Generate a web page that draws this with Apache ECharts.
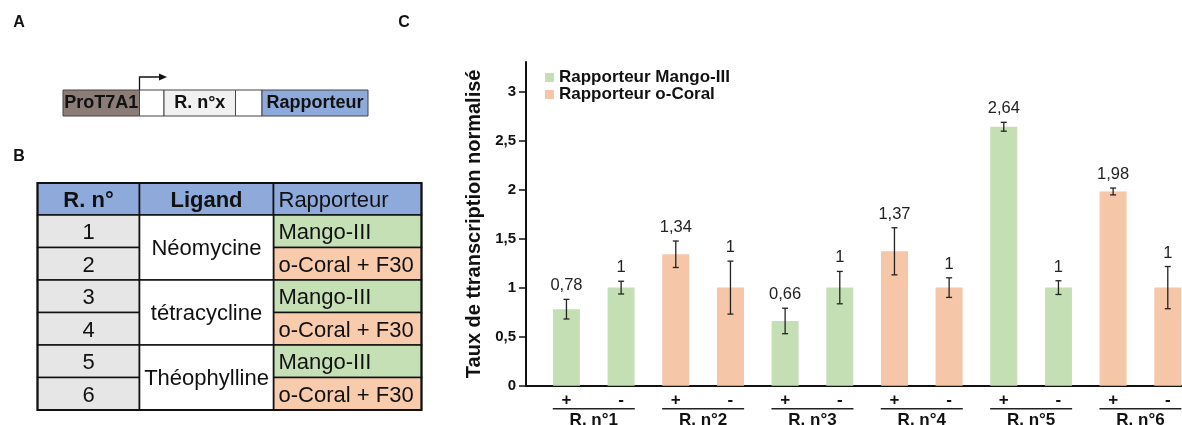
<!DOCTYPE html>
<html>
<head>
<meta charset="utf-8">
<script src="https://cdn.jsdelivr.net/npm/echarts@6/dist/echarts.min.js"></script>
<style>
html,body{margin:0;padding:0;background:#fff;}
#chart{width:1182px;height:425px;}
</style>
</head>
<body>
<div id="chart"></div>
<script>
// ---- Data (panel C) ----
const conditions = ['+', '-', '+', '-', '+', '-', '+', '-', '+', '-', '+', '-'];
const constructs = ['R. n°1', 'R. n°2', 'R. n°3', 'R. n°4', 'R. n°5', 'R. n°6'];
const mangoValues = [0.78, 1, null, null, 0.66, 1, null, null, 2.64, 1, null, null];
const coralValues = [null, null, 1.34, 1, null, null, 1.37, 1, null, null, 1.98, 1];
const errorValues = [0.10, 0.065, 0.135, 0.27, 0.13, 0.165, 0.24, 0.10, 0.045, 0.07, 0.035, 0.215];
const yTicks = [0, 0.5, 1, 1.5, 2, 2.5, 3];
const seriesNames = ['Rapporteur Mango-III', 'Rapporteur o-Coral'];

// ---- Text content (panels A and B) ----
const constructParts = ['ProT7A1', '', 'R. n°x', '', 'Rapporteur'];
const tableHeader = ['R. n°', 'Ligand', 'Rapporteur'];
const rowNumbers = ['1', '2', '3', '4', '5', '6'];
const ligands = ['Néomycine', 'tétracycline', 'Théophylline'];
const reporters = ['Mango-III', 'o-Coral + F30', 'Mango-III', 'o-Coral + F30', 'Mango-III', 'o-Coral + F30'];

const FONT = '"Liberation Sans", Arial, sans-serif';
const GREEN = '#c5dfb5';
const ORANGE = '#f5c6a7';
const fmt = v => String(v).replace('.', ',');

const chart = echarts.init(document.getElementById('chart'));

// ---- graphic: panels A & B ----
const g = [];
function txt(x, y, text, size, bold, align) {
  g.push({type: 'text', x: x, y: y, silent: true,
    style: {text: text, fontSize: size, fontWeight: bold ? 'bold' : 'normal', fontFamily: FONT,
      fill: '#111', align: align || 'center', verticalAlign: 'middle'}});
}
txt(19, 23, 'A', 16, true);
txt(19, 157, 'B', 16, true);
txt(404, 23, 'C', 16, true);

// Panel A
const aEdges = [63, 139.5, 164, 235.5, 262, 368];
const aFills = ['#8c7c77', '#ffffff', '#f1f1f1', '#ffffff', '#8eaadb'];
for (let i = 0; i < 5; i++) {
  g.push({type: 'rect', silent: true, shape: {x: aEdges[i], y: 90, width: aEdges[i + 1] - aEdges[i], height: 26},
    style: {fill: aFills[i], stroke: '#444', lineWidth: 1}});
  if (constructParts[i]) txt((aEdges[i] + aEdges[i + 1]) / 2, 103.5, constructParts[i], 18, true);
}
g.push({type: 'polyline', silent: true, shape: {points: [[139.5, 90], [139.5, 77], [161, 77]]},
  style: {stroke: '#111', lineWidth: 1.3, fill: null}});
g.push({type: 'polygon', silent: true, shape: {points: [[159, 73.5], [167, 77], [159, 80.5]]},
  style: {fill: '#111'}});

// Panel B
const bx = [37.5, 139.5, 273.5, 421.5];
const by = [183, 215, 247.5, 280, 312.5, 345, 377.5, 410];
const line = '#111';
for (let c = 0; c < 3; c++) {
  g.push({type: 'rect', silent: true, shape: {x: bx[c], y: by[0], width: bx[c + 1] - bx[c], height: by[1] - by[0]},
    style: {fill: '#8eaadb', stroke: line, lineWidth: 1.6}});
}
for (let r = 0; r < 6; r++) {
  g.push({type: 'rect', silent: true, shape: {x: bx[0], y: by[r + 1], width: bx[1] - bx[0], height: by[r + 2] - by[r + 1]},
    style: {fill: '#e7e6e6', stroke: line, lineWidth: 1.6}});
  g.push({type: 'rect', silent: true, shape: {x: bx[2], y: by[r + 1], width: bx[3] - bx[2], height: by[r + 2] - by[r + 1]},
    style: {fill: r % 2 === 0 ? '#c5e0b4' : '#f8cbad', stroke: line, lineWidth: 1.6}});
}
for (let k = 0; k < 3; k++) {
  g.push({type: 'rect', silent: true, shape: {x: bx[1], y: by[2 * k + 1], width: bx[2] - bx[1], height: by[2 * k + 3] - by[2 * k + 1]},
    style: {fill: '#ffffff', stroke: line, lineWidth: 1.6}});
}
g.push({type: 'rect', silent: true, shape: {x: bx[0], y: by[0], width: bx[3] - bx[0], height: by[7] - by[0]},
  style: {fill: null, stroke: line, lineWidth: 2}});
txt((bx[0] + bx[1]) / 2, 201, tableHeader[0], 22, true);
txt((bx[1] + bx[2]) / 2, 201, tableHeader[1], 22, true);
txt(bx[2] + 5, 201, tableHeader[2], 22, false, 'left');
for (let r = 0; r < 6; r++) {
  const cy = (by[r + 1] + by[r + 2]) / 2 + 2;
  txt((bx[0] + bx[1]) / 2, cy, rowNumbers[r], 22, false);
  txt(bx[2] + 5, cy, reporters[r], 22, false, 'left');
}
for (let k = 0; k < 3; k++) {
  txt((bx[1] + bx[2]) / 2, (by[2 * k + 1] + by[2 * k + 3]) / 2 + 1, ligands[k], 22, false);
}

// ---- Panel C data for series ----
const toPairs = arr => arr.map((v, i) => v == null ? null : [i, v]).filter(d => d);
const allValues = mangoValues.map((v, i) => v != null ? v : coralValues[i]);
const errData = allValues.map((v, i) => [i, v, errorValues[i]]);
const xMin = -0.74, xMax = 11.26;

const option = {
  animation: false,
  backgroundColor: '#ffffff',
  graphic: g,
  legend: {
    data: seriesNames,
    orient: 'vertical',
    left: 540, top: 64,
    itemWidth: 9, itemHeight: 9, itemGap: 0,
    icon: 'rect',
    textStyle: {fontFamily: FONT, fontWeight: 'bold', fontSize: 17, color: '#111', lineHeight: 17}
  },
  grid: {left: 526, right: 0, top: 62, bottom: 39.3, containLabel: false, outerBoundsMode: 'none'},
  xAxis: [{
    type: 'value', min: xMin, max: xMax,
    axisLine: {show: true, onZero: false, lineStyle: {color: '#111', width: 2}},
    axisTick: {show: false}, splitLine: {show: false},
    axisLabel: {customValues: conditions.map((c, i) => i), formatter: v => conditions[Math.round(v)],
      margin: 6, fontFamily: FONT, fontWeight: 'bold', fontSize: 17, color: '#111'}
  }, {
    type: 'value', min: xMin, max: xMax, position: 'bottom',
    axisLine: {show: false, onZero: false}, axisTick: {show: false}, splitLine: {show: false},
    axisLabel: {customValues: constructs.map((c, i) => 2 * i + 0.5),
      formatter: v => '{u| }\n{t|' + constructs[Math.round((v - 0.5) / 2)] + '}',
      margin: 22,
      rich: {
        u: {width: 82, height: 1.5, lineHeight: 2, fontSize: 1, backgroundColor: '#222'},
        t: {fontFamily: FONT, fontWeight: 'bold', fontSize: 17, color: '#111', lineHeight: 19, padding: [3, 0, 0, 0]}
      }}
  }],
  yAxis: {
    type: 'value', min: 0, max: 3.3,
    name: 'Taux de ttranscription normalisé', nameLocation: 'middle', nameGap: 38,
    nameTextStyle: {fontFamily: FONT, fontWeight: 'bold', fontSize: 20, color: '#111'},
    axisLine: {show: true, onZero: false, lineStyle: {color: '#111', width: 2}},
    axisTick: {show: true, customValues: yTicks, length: 7, lineStyle: {color: '#111', width: 1.5}},
    splitLine: {show: false},
    axisLabel: {customValues: yTicks, formatter: v => fmt(v), margin: 10, padding: [0, 0, 4, 0],
      fontFamily: FONT, fontWeight: 'bold', fontSize: 15, color: '#111'}
  },
  series: [{
    name: seriesNames[0], type: 'bar', barWidth: 27, barGap: '-100%',
    itemStyle: {color: GREEN}, data: toPairs(mangoValues)
  }, {
    name: seriesNames[1], type: 'bar', barWidth: 27, barGap: '-100%',
    itemStyle: {color: ORANGE}, data: toPairs(coralValues)
  }, {
    type: 'custom', z: 5, silent: true,
    encode: {x: 0, y: 1},
    data: errData,
    renderItem: function (params, api) {
      const x = api.value(0), v = api.value(1), e = api.value(2);
      const top = api.coord([x, v + e]);
      const bot = api.coord([x, v - e]);
      const cap = 3;
      const st = {stroke: '#222', lineWidth: 1.3};
      return {type: 'group', children: [
        {type: 'line', shape: {x1: top[0], y1: top[1], x2: bot[0], y2: bot[1]}, style: st},
        {type: 'line', shape: {x1: top[0] - cap, y1: top[1], x2: top[0] + cap, y2: top[1]}, style: st},
        {type: 'line', shape: {x1: bot[0] - cap, y1: bot[1], x2: bot[0] + cap, y2: bot[1]}, style: st},
        {type: 'text', style: {text: fmt(v), x: top[0], y: top[1] - 5, align: 'center', verticalAlign: 'bottom',
          fontFamily: FONT, fontSize: 16.5, fill: '#222'}}
      ]};
    }
  }]
};
chart.setOption(option);
</script>
</body>
</html>
